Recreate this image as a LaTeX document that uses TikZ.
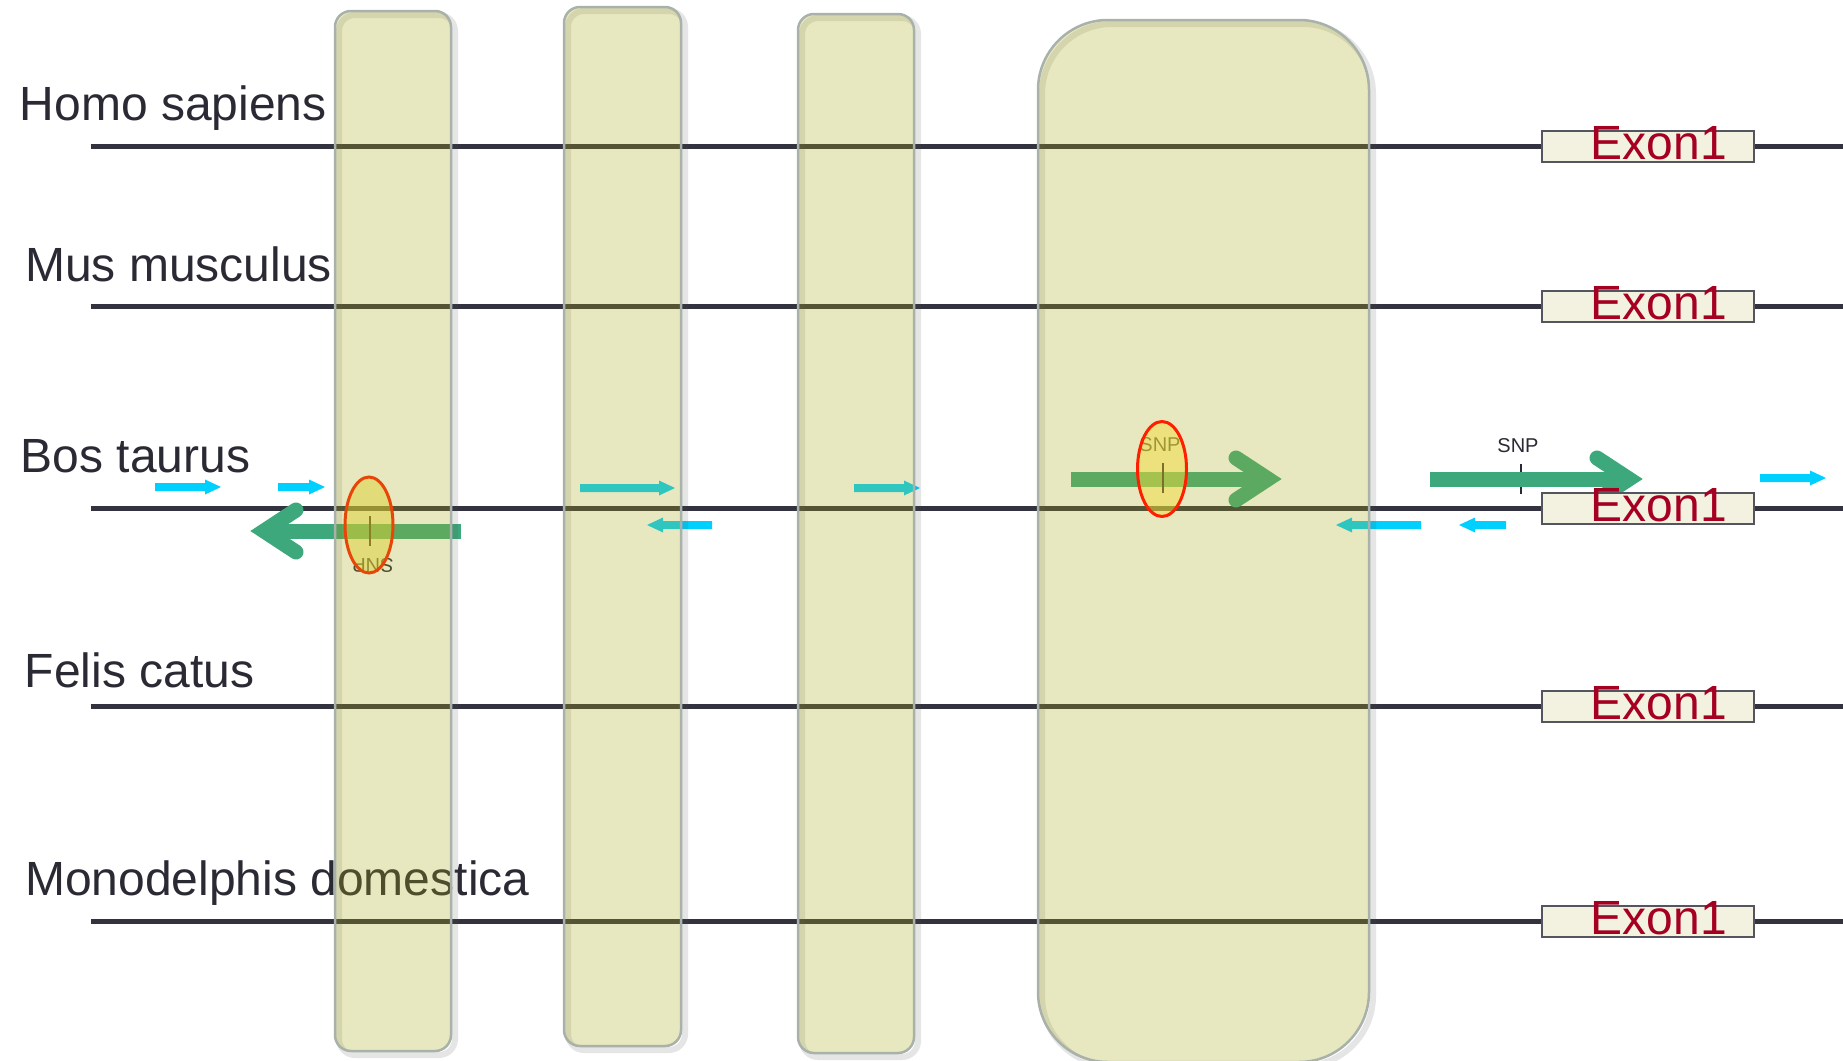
\documentclass[tikz,border=0pt]{standalone}
\usepackage{fontspec}
\setmainfont{Liberation Sans}
\definecolor{linec}{RGB}{51,51,63}
\definecolor{boxfill}{RGB}{173,173,30}
\definecolor{boxedge}{RGB}{168,178,170}
\definecolor{exfill}{RGB}{243,242,225}
\definecolor{exedge}{RGB}{85,85,95}
\definecolor{exred}{RGB}{165,0,33}
\definecolor{cyanp}{RGB}{0,208,255}
\definecolor{greenp}{RGB}{61,168,123}
\definecolor{snpred}{RGB}{255,30,0}
\definecolor{snpyel}{RGB}{240,220,60}
\definecolor{labelc}{RGB}{42,42,52}
\definecolor{tickin}{RGB}{125,110,45}
\tikzset{
  dnaline/.style={linec, line width=5pt},
  lab/.style={anchor=base west, inner sep=0pt, text=labelc, font=\fontsize{48}{48}\selectfont},
  exonbox/.style={draw=exedge, fill=exfill, line width=2.5pt, minimum width=212pt, minimum height=31pt, inner sep=0pt},
  exontext/.style={anchor=base, inner sep=0pt, text=exred, font=\fontsize{48}{48}\selectfont},
  snptext/.style={inner sep=0pt, text=labelc, font=\fontsize{20}{20}\selectfont},
  snptick/.style={draw=labelc, line width=2.5pt},
  snpoval/.style={draw=snpred, line width=3pt, fill=snpyel, fill opacity=0.5},
}
\newcommand\primerarrow[4]{%
  \fill[cyanp] ({#1},{#3-4}) -- ({#2-(#4)*16},{#3-4}) -- ({#2-(#4)*16},{#3-7.5}) -- ({#2},{#3}) -- ({#2-(#4)*16},{#3+7.5}) -- ({#2-(#4)*16},{#3+4}) -- ({#1},{#3+4}) -- cycle;}
\newcommand\bigprimer[4]{%
  \fill[greenp] ({#1},{#3-7.5}) rectangle ({#2-(#4)*20},{#3+7.5});
  \draw[greenp, line width=15pt, line cap=round, line join=miter] ({#2-(#4)*46},{#3-21}) -- ({#2-(#4)*14},{#3}) -- ({#2-(#4)*46},{#3+21});}
\newcommand\consbox[5]{%
  \draw[black!70, opacity=0.14, line width=6pt, rounded corners=#5pt] ({#1+4},{#2+4}) rectangle ({#3+4},{#4+4});
  \draw[boxedge, line width=2.5pt, fill=boxfill, fill opacity=0.28, rounded corners=#5pt] (#1,#2) rectangle (#3,#4);}
\begin{document}
\begin{tikzpicture}[x=1pt,y=-1pt]
\useasboundingbox (0,0) rectangle (1843,1060);
\fill[white] (0,0) rectangle (1843,1060);

% species labels
\node[lab] (homo) at (19.5,120) {Homo sapiens};
\node[lab] (mus) at (25,281) {Mus musculus};
\node[lab] (bos) at (20.5,472) {Bos taurus};
\node[lab] (felis) at (24.5,687) {Felis catus};
\node[lab] (mono) at (25,895) {Monodelphis domestica};

% DNA lines
\draw[dnaline] (91,146) -- (1843,146);
\draw[dnaline] (91,306) -- (1843,306);
\draw[dnaline] (91,508) -- (1843,508);
\draw[dnaline] (91,706) -- (1843,706);
\draw[dnaline] (91,921) -- (1843,921);

% SNP labels and ticks
\node[snptext, rotate=180] (snpA) at (373,565) {SNP};
\node[snptext] (snpB) at (1160,445) {SNP};
\node[snptext] (snpC) at (1518,446) {SNP};
\draw[snptick] (370,516) -- (370,546);
\draw[snptick] (1163,463) -- (1163,493);
\draw[snptick] (1521,464) -- (1521,494);

% primers
\primerarrow{155}{221}{487}{1}
\primerarrow{278}{325}{487}{1}
\primerarrow{580}{675}{488}{1}
\primerarrow{854}{920}{488}{1}
\primerarrow{1760}{1826}{478}{1}
\primerarrow{712}{647}{525}{-1}
\primerarrow{1421}{1336}{525}{-1}
\primerarrow{1506}{1459}{525}{-1}
\bigprimer{461}{250}{531}{-1}
\bigprimer{1071}{1282}{479}{1}
\bigprimer{1430}{1643}{479}{1}

% exon boxes
\node[exonbox] (ex1) at (1648,146.5) {};
\node[exonbox] (ex2) at (1648,306.5) {};
\node[exonbox] (ex3) at (1648,508.5) {};
\node[exonbox] (ex4) at (1648,706.5) {};
\node[exonbox] (ex5) at (1648,921.5) {};
\node[exontext] (ext1) at (1659,159) {Exon1};
\node[exontext] (ext2) at (1659,319) {Exon1};
\node[exontext] (ext3) at (1659,521) {Exon1};
\node[exontext] (ext4) at (1659,719) {Exon1};
\node[exontext] (ext5) at (1659,934) {Exon1};

% SNP oval under first box
\draw[snpoval] (369,525) ellipse [x radius=24, y radius=48];
\draw[tickin, line width=2.5pt] (370,516) -- (370,546);

% conserved regions
\consbox{335}{11}{451}{1051}{16}
\consbox{564}{7}{681}{1046}{16}
\consbox{798}{14}{914}{1053}{16}
\consbox{1038}{20}{1369}{1062}{70}

% SNP oval over last box
\draw[snpoval] (1162,469) ellipse [x radius=24.5, y radius=47.5];
\draw[tickin, line width=2.5pt] (1163,463) -- (1163,493);
\end{tikzpicture}
\end{document}
